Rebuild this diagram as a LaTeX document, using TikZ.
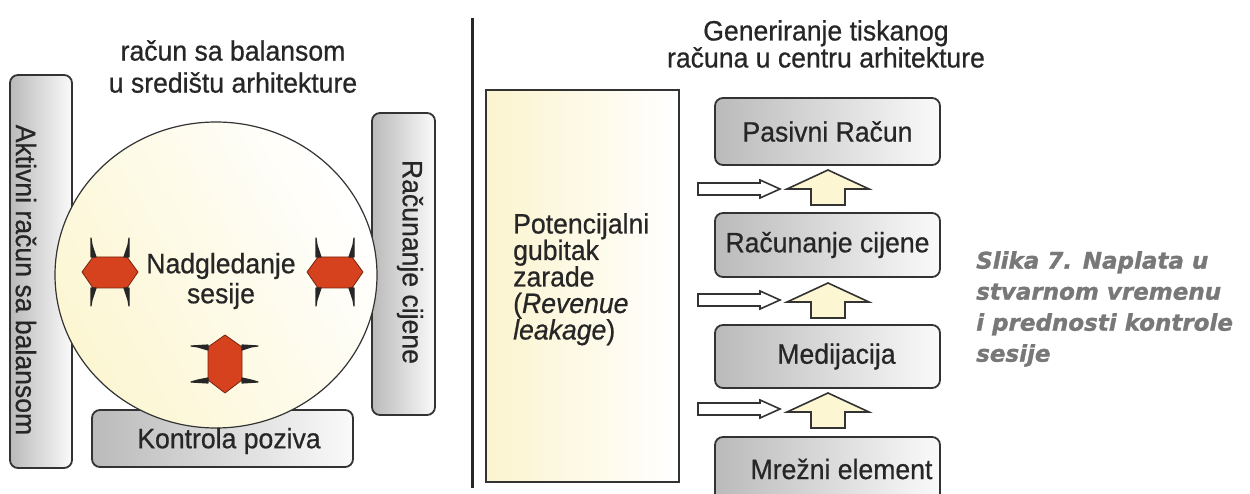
\documentclass[tikz,border=0pt]{standalone}
\usepackage{fontspec}
\setmainfont{Liberation Sans}[FakeStretch=0.95, FakeBold=0.6]
\newfontfamily\capfont{DejaVu Sans Bold Oblique}[FakeBold=1.2]
\usetikzlibrary{shapes.geometric}

\definecolor{boxline}{HTML}{333333}
\definecolor{txtcol}{HTML}{262626}
\definecolor{arrred}{HTML}{D6421D}
\definecolor{cream}{HTML}{FCF6D2}
\definecolor{paleyellow}{HTML}{FBF4CE}
\definecolor{capgray}{HTML}{787878}

\tikzset{
  greybox/.style={draw=boxline, line width=1.8, rounded corners=8,
    left color=black!27, right color=black!2, inner sep=0},
  txt/.style={font=\fontsize{28}{30}\selectfont, text=txtcol, inner sep=0},
  redarr/.style={fill=arrred, draw=arrred!55!black, line width=0.8, line join=round},
  ear/.style={draw=black!85, fill=black!85, line width=1.2, line join=round},
  blockarr/.style={fill=cream, draw=boxline, line width=1.6, line join=miter},
  outarr/.style={fill=white, draw=boxline, line width=1.6, line join=miter},
}

% horizontal double block arrow: left tip x, centre y
\newcommand\hredarrow[2]{%
  \draw[redarr] (#1,#2) -- (#1+11,#2-15) -- (#1+45,#2-15) -- (#1+56,#2)
    -- (#1+45,#2+16) -- (#1+11,#2+16) -- cycle;
  \draw[ear] (#1+9,#2-15) -- (#1+14,#2-15) -- (#1+10,#2-27) -- (#1+9,#2-34) -- cycle;
  \draw[ear] (#1+42,#2-15) -- (#1+47,#2-15) -- (#1+47,#2-34) -- (#1+46,#2-27) -- cycle;
  \draw[ear] (#1+9,#2+16) -- (#1+14,#2+16) -- (#1+10,#2+28) -- (#1+9,#2+34) -- cycle;
  \draw[ear] (#1+42,#2+16) -- (#1+47,#2+16) -- (#1+47,#2+34) -- (#1+46,#2+28) -- cycle;}
% vertical double block arrow: centre x, top tip y
\newcommand\vredarrow[2]{%
  \draw[redarr] (#1,#2) -- (#1+17,#2+12) -- (#1+17,#2+45) -- (#1,#2+58)
    -- (#1-17,#2+45) -- (#1-17,#2+12) -- cycle;
  \draw[ear] (#1-17,#2+10) -- (#1-17,#2+15) -- (#1-27,#2+12) -- (#1-34,#2+11) -- cycle;
  \draw[ear] (#1+17,#2+10) -- (#1+17,#2+15) -- (#1+26,#2+12) -- (#1+33,#2+11) -- cycle;
  \draw[ear] (#1-17,#2+43) -- (#1-17,#2+48) -- (#1-34,#2+47) -- (#1-27,#2+45) -- cycle;
  \draw[ear] (#1+17,#2+43) -- (#1+17,#2+48) -- (#1+33,#2+47) -- (#1+26,#2+45) -- cycle;}
% thin outlined arrow pointing right: left x, centre y
\newcommand\thinarrow[2]{%
  \draw[outarr] (#1,#2-6) -- ++(62,0) -- ++(0,-3) -- ++(20,9) -- ++(-20,9)
    -- ++(0,-3) -- ++(-62,0) -- cycle;}
% upward block arrow: centre x, tip y
\newcommand\upblockarrow[2]{%
  \draw[blockarr] (#1,#2) -- (#1+41,#2+19) -- (#1+17,#2+19) -- (#1+17,#2+35)
    -- (#1-17,#2+35) -- (#1-17,#2+19) -- (#1-41,#2+19) -- cycle;}

\begin{document}
\begin{tikzpicture}[x=1pt,y=-1pt]
\useasboundingbox[fill=white] (0,0) rectangle (1250,494);

% ---------- left half: balance account in the centre ----------
\node[txt, align=center, anchor=north] (ltitle) at (233,40)
  {račun sa balansom\\[2pt]u središtu arhitekture};

\node[greybox, minimum width=62, minimum height=393] (aktiv) at (41,271.5) {};
\node[greybox, minimum width=63, minimum height=302] (cijena) at (403.5,264) {};
\node[greybox, minimum width=261, minimum height=57] (kontrola) at (222.5,438.5) {};

\node[ellipse, draw=boxline, line width=1.2, inner sep=0,
      minimum width=322, minimum height=306,
      left color=cream, right color=white, shading angle=120] (sesija) at (216,275) {};

\node[txt, rotate=-90] at (26,280) {Aktivni račun sa balansom};
\node[txt, rotate=-90] at (410,262) {Računanje cijene};
\node[txt] at (229,441) {Kontrola poziva};
\node[txt, align=center] at (221,281) {Nadgledanje\\sesije};

\hredarrow{82}{272}
\hredarrow{307}{272}
\vredarrow{225}{335}

% ---------- divider ----------
\coordinate (dtop) at (472,18);
\coordinate (dbot) at (472,488);
\draw[line width=3, draw=black!85] (dtop) -- (dbot);

% ---------- right half: printed bill in the centre ----------
\node[txt, align=center, anchor=north] (rtitle) at (826,20)
  {Generiranje tiskanog\\[-3pt]računa u centru arhitekture};

\node[draw=boxline, line width=1.8, inner sep=0, minimum width=193, minimum height=392,
      left color=paleyellow, right color=white] (leak) at (582.5,286) {};
\node[txt, align=left, anchor=north west, font=\fontsize{28}{26.5}\selectfont]
  at (513,213) {Potencijalni\\gubitak\\zarade\\(\textit{Revenue}\\\textit{leakage})};

\node[greybox, minimum width=225, minimum height=67] (pasiv) at (827.5,131.5) {};
\node[greybox, minimum width=225, minimum height=64] (racun) at (827.5,245) {};
\node[greybox, minimum width=225, minimum height=63] (medi) at (827.5,356.5) {};
\node[greybox, minimum width=225, minimum height=74] (mreza) at (827.5,474) {};

\node[txt] at (pasiv.center) {Pasivni Račun};
\node[txt] at (racun.center) {Računanje cijene};
\node[txt] at ([xshift=9]medi.center) {Medijacija};
\node[txt] at ([xshift=14,yshift=5]mreza.center) {Mrežni element};

\thinarrow{698}{189}
\upblockarrow{828}{170}
\thinarrow{698}{300}
\upblockarrow{828}{283}
\thinarrow{698}{409}
\upblockarrow{828}{393}

% ---------- caption ----------
\node[anchor=north west, align=left, inner sep=0, text=capgray,
      font=\capfont\fontsize{23}{31}\selectfont] (caption) at (976,251)
  {Slika 7. Naplata u\\stvarnom vremenu\\i prednosti kontrole\\sesije};
\end{tikzpicture}
\end{document}
